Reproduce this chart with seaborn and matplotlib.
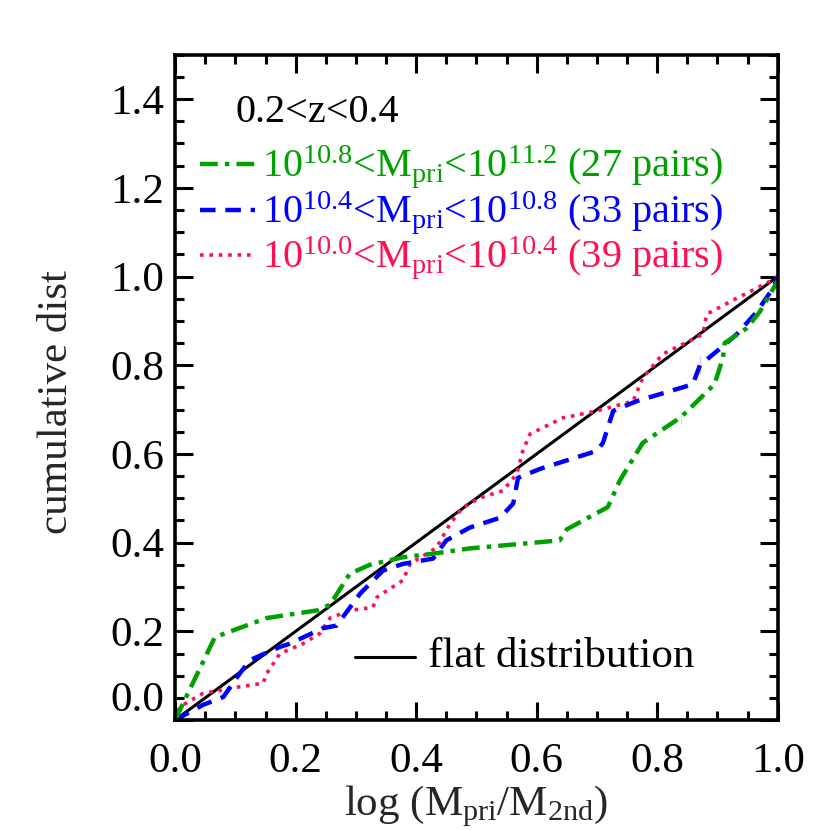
import numpy as np
import pandas as pd
import matplotlib
matplotlib.use('Agg')
import matplotlib.pyplot as plt
import seaborn as sns

# cumulative distributions
hi_x = [0.0, 0.066, 0.152, 0.235, 0.257, 0.29, 0.323, 0.378, 0.428, 0.489, 0.638, 0.65,
        0.718, 0.738, 0.776, 0.84, 0.84, 0.895, 0.909, 0.912, 0.948, 0.97, 1.0]
hi_y = [0.0, 0.187, 0.23, 0.247, 0.26, 0.33, 0.35, 0.367, 0.375, 0.387, 0.405, 0.43,
        0.48, 0.54, 0.625, 0.667, 0.70, 0.757, 0.816, 0.85, 0.883, 0.92, 0.99]

mid_x = [0.0, 0.046, 0.08, 0.103, 0.124, 0.174, 0.19, 0.245, 0.268, 0.307, 0.345, 0.378,
         0.428, 0.45, 0.489, 0.539, 0.561, 0.569, 0.605, 0.7, 0.71, 0.727, 0.766, 0.859,
         0.871, 0.871, 0.909, 0.932, 0.965, 0.992, 1.0]
mid_y = [0.0, 0.034, 0.052, 0.097, 0.135, 0.165, 0.172, 0.207, 0.213, 0.285, 0.337, 0.352,
         0.364, 0.405, 0.434, 0.456, 0.488, 0.546, 0.566, 0.607, 0.625, 0.697, 0.719, 0.757,
         0.78, 0.82, 0.843, 0.87, 0.92, 0.973, 1.0]

lo_x = [0.0, 0.008, 0.046, 0.103, 0.146, 0.152, 0.174, 0.212, 0.24, 0.257, 0.29, 0.328,
        0.335, 0.378, 0.39, 0.434, 0.456, 0.477, 0.506, 0.544, 0.567, 0.577, 0.589, 0.643,
        0.7, 0.76, 0.776, 0.809, 0.876, 0.882, 0.932, 0.987, 1.0]
lo_y = [0.0, 0.03, 0.06, 0.074, 0.083, 0.105, 0.15, 0.172, 0.195, 0.23, 0.247, 0.254,
        0.277, 0.315, 0.352, 0.389, 0.442, 0.479, 0.501, 0.517, 0.555, 0.607, 0.645, 0.681,
        0.697, 0.719, 0.771, 0.825, 0.87, 0.915, 0.951, 0.989, 1.0]

flat_x = [0.0, 1.0]
flat_y = [0.0, 1.0]

labels = [r'$10^{10.8}$<M$_{\rm pri}$<$10^{11.2}$ (27 pairs)',
          r'$10^{10.4}$<M$_{\rm pri}$<$10^{10.8}$ (33 pairs)',
          r'$10^{10.0}$<M$_{\rm pri}$<$10^{10.4}$ (39 pairs)']
colors = ['#00a000', '#0000ff', '#ff1050']

sns.set_theme(style='ticks')
plt.rcParams['font.family'] = ['Liberation Serif', 'DejaVu Serif']
plt.rcParams['mathtext.fontset'] = 'custom'
plt.rcParams['mathtext.rm'] = 'Liberation Serif'
plt.rcParams['mathtext.it'] = 'Liberation Serif'

fig = plt.figure(figsize=(8.3, 8.3), dpi=100)
ax = fig.add_axes([0.211, 0.1325, 0.726, 0.8015])

df_hi = pd.DataFrame({'x': hi_x, 'y': hi_y})
df_mid = pd.DataFrame({'x': mid_x, 'y': mid_y})
df_lo = pd.DataFrame({'x': lo_x, 'y': lo_y})
df_flat = pd.DataFrame({'x': flat_x, 'y': flat_y})

styles = [(0, (4.0, 1.6, 1.0, 1.6)), (0, (3.5, 2.2)), (0, (1.0, 1.6))]
widths = [3.2, 3.2, 2.6]

sns.lineplot(data=df_flat, x='x', y='y', ax=ax, color='black', lw=2.2, sort=False)
sns.lineplot(data=df_lo, x='x', y='y', ax=ax, color=colors[2], lw=widths[2], sort=False,
             linestyle=styles[2])
sns.lineplot(data=df_mid, x='x', y='y', ax=ax, color=colors[1], lw=widths[1], sort=False,
             linestyle=styles[1])
sns.lineplot(data=df_hi, x='x', y='y', ax=ax, color=colors[0], lw=widths[0], sort=False,
             linestyle=styles[0])

ax.set_xlim(0, 1.0)
ax.set_ylim(0, 1.5)
ax.set_xticks(np.arange(0, 1.01, 0.2))
ax.set_yticks(np.arange(0, 1.41, 0.2))
ax.set_xticks(np.arange(0, 1.01, 0.05), minor=True)
ax.set_yticks(np.arange(0, 1.51, 0.05), minor=True)
ax.set_xticklabels(['%.1f' % v for v in np.arange(0, 1.01, 0.2)])
ax.set_yticklabels(['%.1f' % v for v in np.arange(0, 1.41, 0.2)])
ax.tick_params(which='both', direction='in', top=True, right=True, width=2.2,
               labelsize=31, colors='black')
ax.tick_params(which='major', length=13)
ax.tick_params(which='minor', length=6.5)
ax.tick_params(axis='x', pad=16)
ax.tick_params(axis='y', pad=8)
ax.get_yticklabels()[0].set_va('bottom')
for s in ax.spines.values():
    s.set_linewidth(2.6)
    s.set_color('black')

ax.set_xlabel(r'log (M$_{\rm pri}$/M$_{\rm 2nd}$)', fontsize=31, labelpad=2)
ax.set_ylabel('cumulative dist', fontsize=31)
ax.yaxis.set_label_coords(-0.165, 0.478)

# legend text block
ax.text(0.1, 1.348, '0.2<z<0.4', fontsize=29, color='black', va='baseline')
for i, (lab, c) in enumerate(zip(labels, colors)):
    yy = 1.225 - i * 0.102
    ax.plot([0.041, 0.133], [yy + 0.028, yy + 0.028], color=c, lw=widths[i], linestyle=styles[i])
    ax.text(0.144, yy, lab, fontsize=29, color=c, va='baseline')

ax.plot([0.298, 0.398], [0.142, 0.142], color='black', lw=2.2)
ax.text(0.42, 0.119, 'flat distribution', fontsize=31, color='black', va='baseline')

fig.savefig('out.png', dpi=100)
